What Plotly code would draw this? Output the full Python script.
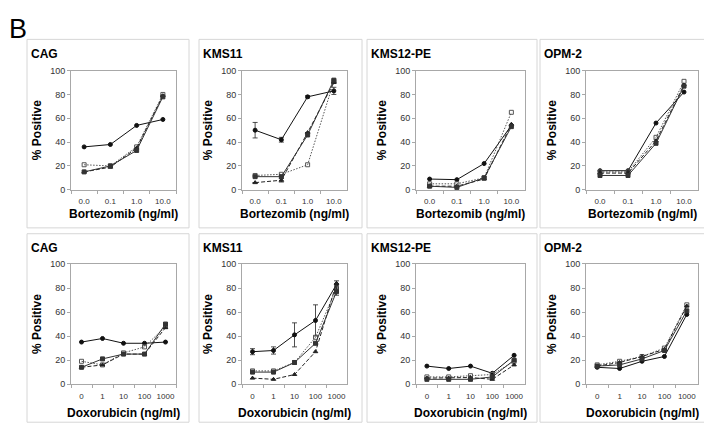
import plotly.graph_objects as go

# page body has an 8px margin: figure is drawn at offset (8, 8)
OFF = 8
W, H = 712 - OFF, 436 - OFF

cell_lines = ["CAG", "KMS11", "KMS12-PE", "OPM-2"]
bort_cats = ["0.0", "0.1", "1.0", "10.0"]
doxo_cats = ["0", "1", "10", "100", "1000"]
bort_title = "Bortezomib (ng/ml)"
doxo_title = "Doxorubicin (ng/ml)"
y_title = "% Positive"

# Bortezomib row: four series per cell line
bort_s1 = {"CAG": [36, 38, 54, 59], "KMS11": [50, 42, 78, 83],
           "KMS12-PE": [9, 8.5, 22, 54], "OPM-2": [16, 16, 56, 82]}
bort_s2 = {"CAG": [21, 20, 36, 80], "KMS11": [12, 13, 21, 91],
           "KMS12-PE": [5, 5, 10, 65], "OPM-2": [15, 15, 44, 91]}
bort_s3 = {"CAG": [15, 19, 35, 79], "KMS11": [6, 8, 48, 90],
           "KMS12-PE": [3, 3, 9, 55], "OPM-2": [14, 14, 41, 88]}
bort_s4 = {"CAG": [15, 20, 33, 78], "KMS11": [11, 11, 46, 92],
           "KMS12-PE": [3, 2, 10, 53], "OPM-2": [12, 12, 39, 87]}
bort_s1_err = {"KMS11": [6.5, 2, 1, 3]}
bort_s3_err = {"KMS11": [0, 1.5, 0, 0]}

# Doxorubicin row
doxo_s1 = {"CAG": [35, 38, 34, 34, 35], "KMS11": [27, 28, 41, 53, 83],
           "KMS12-PE": [15, 13, 15, 9, 24], "OPM-2": [14, 13, 19, 23, 58]}
doxo_s2 = {"CAG": [19, 16, 26, 31, 48], "KMS11": [11, 11, 18, 39, 80],
           "KMS12-PE": [6, 6, 7, 8, 19], "OPM-2": [16, 19, 23, 30, 66]}
doxo_s3 = {"CAG": [14, 16, 25, 25, 47], "KMS11": [5, 4, 8, 27, 84],
           "KMS12-PE": [5, 5, 5.5, 4, 16], "OPM-2": [15, 18, 23, 29, 65]}
doxo_s4 = {"CAG": [14, 21, 25, 25, 50], "KMS11": [10, 10, 18, 34, 77],
           "KMS12-PE": [4, 4, 4, 6, 20], "OPM-2": [15, 16, 21, 28, 61]}
doxo_s1_err = {"KMS11": [2.5, 3, 10, 13, 3]}
doxo_s4_err = {"KMS11": [0, 0, 0, 0, 3]}

styles = [
    dict(color="#111111", dash="solid", symbol="circle"),
    dict(color="#555555", dash="1.5px,1.5px", symbol="square-open"),
    dict(color="#222222", dash="4px,2px", symbol="triangle-up"),
    dict(color="#333333", dash="solid", symbol="square"),
]

# page-pixel geometry (from the reference)
box_x = [(27, 189), (199, 362), (367, 537), (540, 706)]
box_y = [(35, 228), (234, 427)]
plot_x = [(71, 176), (242, 347), (416, 525), (586, 698)]
plot_y = [(67, 189), (265, 388)]


def fx(px):
    return (px - OFF) / W


def fy(py):
    return 1 - (py - OFF) / H


FONT = "Liberation Sans, Arial, sans-serif"

fig = go.Figure()
layout = dict(width=W, height=H, margin=dict(l=0, r=0, t=0, b=0),
              paper_bgcolor="white", plot_bgcolor="white", showlegend=False,
              font=dict(family=FONT, color="#000"))
annotations = []
shapes = []

rows = [
    (bort_cats, [bort_s1, bort_s2, bort_s3, bort_s4], [bort_s1_err, {}, bort_s3_err, {}], bort_title),
    (doxo_cats, [doxo_s1, doxo_s2, doxo_s3, doxo_s4], [doxo_s1_err, {}, {}, doxo_s4_err], doxo_title),
]

for r, (cats, series, errs, xt) in enumerate(rows):
    for c, cell in enumerate(cell_lines):
        n = r * 4 + c + 1
        xa = "x" if n == 1 else f"x{n}"
        ya = "y" if n == 1 else f"y{n}"
        for s, (sd, ed) in enumerate(zip(series, errs)):
            st = styles[s]
            err = ed.get(cell)
            fig.add_trace(go.Scatter(
                x=cats, y=sd[cell], xaxis=xa, yaxis=ya, mode="lines+markers",
                line=dict(color=st["color"], dash=st["dash"], width=1),
                marker=dict(symbol=st["symbol"], size=4, color=st["color"],
                            line=dict(color=st["color"], width=1)),
                error_y=dict(type="data", array=err, visible=err is not None,
                             color="#222", thickness=0.8, width=2.5),
                cliponaxis=False, hoverinfo="skip"))
        x0, x1 = plot_x[c]
        y0, y1 = plot_y[r]
        layout["xaxis" if n == 1 else f"xaxis{n}"] = dict(
            domain=[fx(x0), fx(x1)], anchor=ya, type="category",
            categoryorder="array", categoryarray=cats,
            range=[-0.5, len(cats) - 0.5], showline=True, mirror=True,
            linecolor="#a8a8a8", linewidth=1, ticks="outside", tickson="boundaries",
            ticklen=3, tickcolor="#a8a8a8", showgrid=False, zeroline=False,
            tickangle=0,
            tickfont=dict(size=8, color="#333", family=FONT), ticklabelstandoff=4,
            fixedrange=True)
        layout["yaxis" if n == 1 else f"yaxis{n}"] = dict(
            domain=[fy(y1), fy(y0)], anchor=xa, range=[0, 100],
            dtick=20, showline=True, mirror=True, linecolor="#a8a8a8", linewidth=1,
            ticks="outside", ticklen=3, tickcolor="#a8a8a8", showgrid=False,
            zeroline=False, tickfont=dict(size=9, color="#333", family=FONT),
            fixedrange=True)
        bx0, bx1 = box_x[c]
        by0, by1 = box_y[r]
        shapes.append(dict(type="rect", xref="paper", yref="paper",
                           x0=fx(bx0), x1=fx(bx1), y0=fy(by1), y1=fy(by0),
                           line=dict(color="#d6d6d6", width=1), layer="below"))
        annotations.append(dict(text=f"<b>{cell}</b>", xref="paper", yref="paper",
                                x=fx(bx0 + 2), y=fy(by0 + 15),
                                xanchor="left", yanchor="middle", showarrow=False,
                                font=dict(size=12, family=FONT)))
        annotations.append(dict(text=f"<b>{y_title}</b>", xref="paper", yref="paper",
                                x=fx(x0 - 34), y=fy((y0 + y1) / 2),
                                textangle=-90, xanchor="center", yanchor="middle",
                                showarrow=False, font=dict(size=12, family=FONT)))
        annotations.append(dict(text=f"<b>{xt}</b>", xref="paper", yref="paper",
                                x=fx((x0 + x1) / 2), y=fy(y1 + (25 if r == 0 else 30)),
                                xanchor="center", yanchor="middle", showarrow=False,
                                font=dict(size=12, family=FONT)))

annotations.append(dict(text="B", xref="paper", yref="paper", x=0, y=1,
                        xanchor="left", yanchor="top", showarrow=False,
                        borderpad=0, font=dict(size=27, family=FONT)))

layout["annotations"] = annotations
layout["shapes"] = shapes
fig.update_layout(**layout)
fig.write_html("out.html")
